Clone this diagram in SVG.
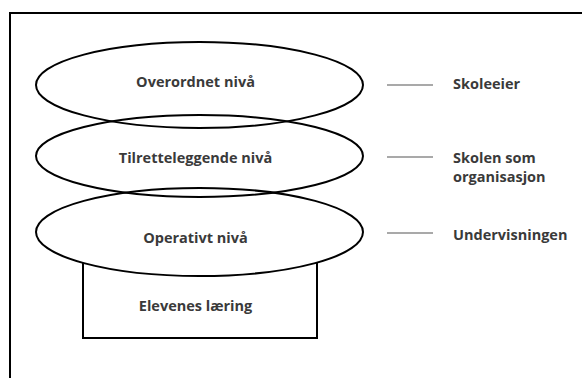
<svg xmlns="http://www.w3.org/2000/svg" width="582" height="378" viewBox="0 0 582 378">
  <style>
    .frame { fill: none; stroke: #000; stroke-width: 2; }
    .level { fill: none; stroke: #000; stroke-width: 2; }
    .box { fill: #fff; stroke: #000; stroke-width: 2; }
    .tick { stroke: #8c8c8c; stroke-width: 1.5; }
    text { font-family: "Open Sans", "DejaVu Sans", sans-serif; font-weight: 700; font-size: 14.5px; fill: #3a3a3a; }
    .mid { text-anchor: middle; }
  </style>
  <rect width="582" height="378" fill="#fff"/>
  <!-- outer frame: only top and left edges fall inside the canvas -->
  <path class="frame" d="M10,390 V13 H600"/>

  <!-- learning box sits under the lowest level -->
  <g id="elevenes-laering">
    <rect class="box" x="83" y="255" width="234" height="83"/>
    <text class="mid" x="195.5" y="311">Elevenes læring</text>
  </g>
  <!-- white backing so the box top is hidden behind the lowest level -->
  <ellipse cx="199.5" cy="232" rx="163.5" ry="44" fill="#fff"/>

  <g id="overordnet">
    <ellipse class="level" cx="199.5" cy="85" rx="163.5" ry="43"/>
    <text class="mid" x="195.5" y="87">Overordnet nivå</text>
  </g>
  <g id="tilretteleggende">
    <ellipse class="level" cx="199.5" cy="156" rx="163.5" ry="41"/>
    <text class="mid" x="195.5" y="163">Tilretteleggende nivå</text>
  </g>
  <g id="operativt">
    <ellipse class="level" cx="199.5" cy="232" rx="163.5" ry="44"/>
    <text class="mid" x="195.5" y="243">Operativt nivå</text>
  </g>

  <g id="connectors">
    <line class="tick" x1="387" y1="85" x2="433" y2="85"/>
    <line class="tick" x1="387" y1="157" x2="433" y2="157"/>
    <line class="tick" x1="387" y1="233" x2="433" y2="233"/>
  </g>

  <g id="skoleeier">
    <text x="453" y="89">Skoleeier</text>
  </g>
  <g id="skolen">
    <text x="453" y="163">Skolen som</text>
    <text x="453" y="182">organisasjon</text>
  </g>
  <g id="undervisningen">
    <text x="453" y="240">Undervisningen</text>
  </g>
</svg>
